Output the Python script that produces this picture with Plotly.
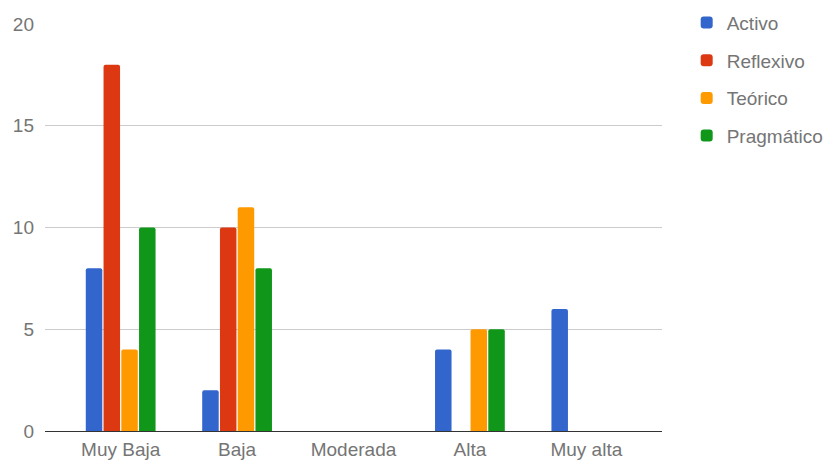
import plotly.graph_objects as go

categories = ["Muy Baja", "Baja", "Moderada", "Alta", "Muy alta"]
series_names = ["Activo", "Reflexivo", "Teórico", "Pragmático"]
activo = [8, 2, 0, 4, 6]
reflexivo = [18, 10, 0, 0, 0]
teorico = [4, 11, 0, 5, 0]
pragmatico = [10, 8, 0, 5, 0]
y_ticks = [0, 5, 10, 15, 20]

colors = ["#3366cc", "#dc3912", "#ff9900", "#109618"]
values = [activo, reflexivo, teorico, pragmatico]

FONT = "Liberation Sans, Arial, sans-serif"

fig = go.Figure()
for name, vals, col in zip(series_names, values, colors):
    fig.add_trace(go.Bar(
        x=categories, y=vals, name=name, legendgroup=name,
        marker=dict(color=col, cornerradius=2, line=dict(width=0)),
    ))

# page body has an 8px default margin, so the figure is 8px smaller
fig.update_layout(
    width=826, height=454,
    margin=dict(l=37, r=172, t=16, b=31, autoexpand=False),
    paper_bgcolor="white", plot_bgcolor="white",
    barmode="group", bargap=0.39, bargroupgap=0.07,
    font=dict(family=FONT, size=18, color="#757575"),
    legend=dict(
        x=1.040, xanchor="left", y=1.05, yanchor="top",
        traceorder="grouped", tracegroupgap=10,
        font=dict(family=FONT, size=19, color="#757575"),
        bgcolor="rgba(0,0,0,0)",
    ),
    xaxis=dict(
        range=[-0.65, 4.65], showgrid=False, zeroline=False, automargin=False,
        showline=False, ticks="", ticklabelstandoff=5,
        tickfont=dict(size=19, color="#757575"),
    ),
    yaxis=dict(
        range=[0, 20], tickvals=y_ticks, showgrid=True, gridcolor="#cccccc",
        gridwidth=1, zeroline=True, zerolinecolor="#333333", zerolinewidth=1,
        showline=False, ticks="", ticklabelstandoff=10, automargin=False,
        tickfont=dict(size=19, color="#757575"),
    ),
)

fig.write_html("out.html")
